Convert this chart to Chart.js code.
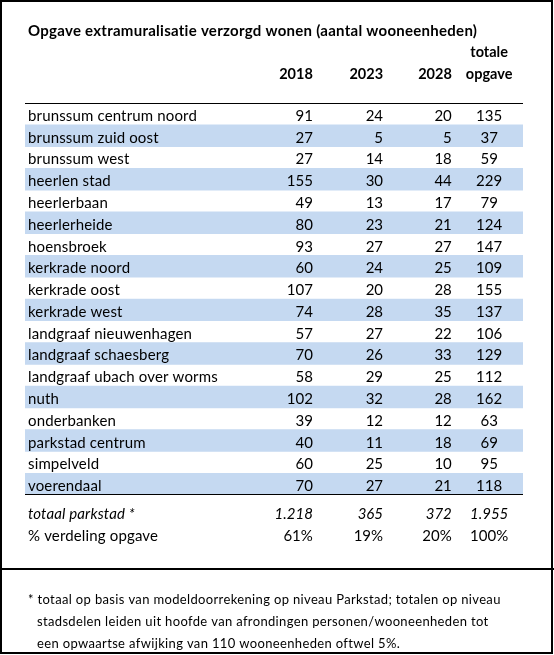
<!DOCTYPE html>
<html>
<head>
<meta charset="utf-8">
<script src="https://cdn.jsdelivr.net/npm/chart.js@4"></script>
<style>
  html, body { margin: 0; padding: 0; background: #fff; }
  canvas { display: block; }
</style>
</head>
<body>
<canvas id="tableChart" width="554" height="655"></canvas>
<script>
// table content
const title = 'Opgave extramuralisatie verzorgd wonen (aantal wooneenheden)';
const columnHeads = ['2018', '2023', '2028', 'opgave'];
const columnHeadTop = ['', '', '', 'totale'];

const regions = [
  'brunssum centrum noord', 'brunssum zuid oost', 'brunssum west', 'heerlen stad',
  'heerlerbaan', 'heerlerheide', 'hoensbroek', 'kerkrade noord', 'kerkrade oost',
  'kerkrade west', 'landgraaf nieuwenhagen', 'landgraaf schaesberg',
  'landgraaf ubach over worms', 'nuth', 'onderbanken', 'parkstad centrum',
  'simpelveld', 'voerendaal'
];
const v2018 = [91, 27, 27, 155, 49, 80, 93, 60, 107, 74, 57, 70, 58, 102, 39, 40, 60, 70];
const v2023 = [24, 5, 14, 30, 13, 23, 27, 24, 20, 28, 27, 26, 29, 32, 12, 11, 25, 27];
const v2028 = [20, 5, 18, 44, 17, 21, 27, 25, 28, 35, 22, 33, 25, 28, 12, 18, 10, 21];
const vTotal = [135, 37, 59, 229, 79, 124, 147, 109, 155, 137, 106, 129, 112, 162, 63, 69, 95, 118];

const totalLabel = 'totaal parkstad *';
const totalRow = ['1.218', '365', '372', '1.955'];
const shareLabel = '% verdeling opgave';
const shareRow = ['61%', '19%', '20%', '100%'];

const footnote = [
  '* totaal op basis van modeldoorrekening op niveau Parkstad; totalen op niveau',
  'stadsdelen leiden uit hoofde van afrondingen personen/wooneenheden tot',
  'een opwaartse afwijking van 110 wooneenheden oftwel 5%.'
];

// layout: x in % of table width, rows in y-scale units
const colX = [57.8, 71.9, 85.7, 93.2];
const colAlign = ['right', 'right', 'right', 'center'];
const labelX = 0.6;
const noteIndent = 2.4;
const rowPos = { title: -3.9, headTop: -2.93, head: -1.92, total: 18.28, share: 19.29, note: [22.27, 23.28, 24.29] };

const FONT = 'Lato, "Noto Sans", sans-serif';
const BAND = '#c5d9f1';

function put(ctx, text, x, y, align, font, spacing) {
  ctx.font = font;
  ctx.textAlign = align;
  ctx.letterSpacing = spacing || '0px';
  ctx.fillText(text, x, y);
}

const tablePlugin = {
  id: 'tableText',
  afterDatasetsDraw(chart) {
    const { ctx, chartArea, scales: { x, y } } = chart;
    const base = 7; // baseline below row centre
    ctx.save();
    ctx.fillStyle = '#000';
    ctx.textBaseline = 'alphabetic';

    // frame
    ctx.strokeStyle = '#000';
    ctx.lineWidth = 2;
    ctx.strokeRect(1, 1, chart.width - 3, chart.height - 3);
    const sep = y.getPixelForValue(20.9);
    ctx.beginPath();
    ctx.moveTo(0, sep);
    ctx.lineTo(chart.width, sep);
    ctx.stroke();

    // rules above and below the body
    ctx.lineWidth = 1;
    ctx.beginPath();
    ctx.moveTo(chartArea.left, Math.round(chartArea.top) + 0.5);
    ctx.lineTo(chartArea.right, Math.round(chartArea.top) + 0.5);
    ctx.moveTo(chartArea.left, Math.round(chartArea.bottom) - 0.5);
    ctx.lineTo(chartArea.right, Math.round(chartArea.bottom) - 0.5);
    ctx.stroke();

    // title and headers
    put(ctx, title, x.getPixelForValue(labelX), y.getPixelForValue(rowPos.title) + base, 'left', 'bold 15px ' + FONT, '0.27px');
    columnHeads.forEach((h, c) => {
      const px = x.getPixelForValue(colX[c]);
      put(ctx, h, px, y.getPixelForValue(rowPos.head) + base, colAlign[c], 'bold 14.5px ' + FONT);
      if (columnHeadTop[c]) put(ctx, columnHeadTop[c], px, y.getPixelForValue(rowPos.headTop) + base, colAlign[c], 'bold 14.5px ' + FONT);
    });

    // body rows
    const cols = [v2018, v2023, v2028, vTotal];
    regions.forEach((r, i) => {
      const py = y.getPixelForValue(i) + base;
      put(ctx, r, x.getPixelForValue(labelX), py, 'left', '15px ' + FONT, '0.15px');
      cols.forEach((col, c) => {
        put(ctx, String(col[i]), x.getPixelForValue(colX[c]), py, colAlign[c], '15px ' + FONT);
      });
    });

    // totals
    let py = y.getPixelForValue(rowPos.total) + base;
    put(ctx, totalLabel, x.getPixelForValue(labelX), py, 'left', 'italic 15px ' + FONT, '0.15px');
    totalRow.forEach((v, c) => put(ctx, v, x.getPixelForValue(colX[c]), py, colAlign[c], 'italic 15px ' + FONT));
    py = y.getPixelForValue(rowPos.share) + base;
    put(ctx, shareLabel, x.getPixelForValue(labelX), py, 'left', '15px ' + FONT, '0.15px');
    shareRow.forEach((v, c) => put(ctx, v, x.getPixelForValue(colX[c]), py, colAlign[c], '15px ' + FONT));

    // footnote
    footnote.forEach((line, k) => {
      const lx = x.getPixelForValue(k === 0 ? labelX : noteIndent);
      put(ctx, line, lx, y.getPixelForValue(rowPos.note[k]) + base - 2, 'left', '13px ' + FONT, '0.35px');
    });
    ctx.restore();
  }
};

new Chart(document.getElementById('tableChart').getContext('2d'), {
  type: 'bar',
  data: {
    labels: regions,
    datasets: [{
      data: regions.map((r, i) => (i % 2 === 1 ? [0, 100] : null)),
      backgroundColor: BAND,
      borderWidth: 0,
      borderSkipped: false,
      barPercentage: 1,
      categoryPercentage: 1
    }]
  },
  options: {
    indexAxis: 'y',
    responsive: false,
    animation: false,
    events: [],
    layout: { padding: { top: 103, bottom: 160, left: 25, right: 31 } },
    scales: {
      x: { type: 'linear', min: 0, max: 100, display: false },
      y: { type: 'category', offset: true, display: false }
    },
    plugins: {
      legend: { display: false },
      tooltip: { enabled: false }
    }
  },
  plugins: [tablePlugin]
});
</script>
</body>
</html>
